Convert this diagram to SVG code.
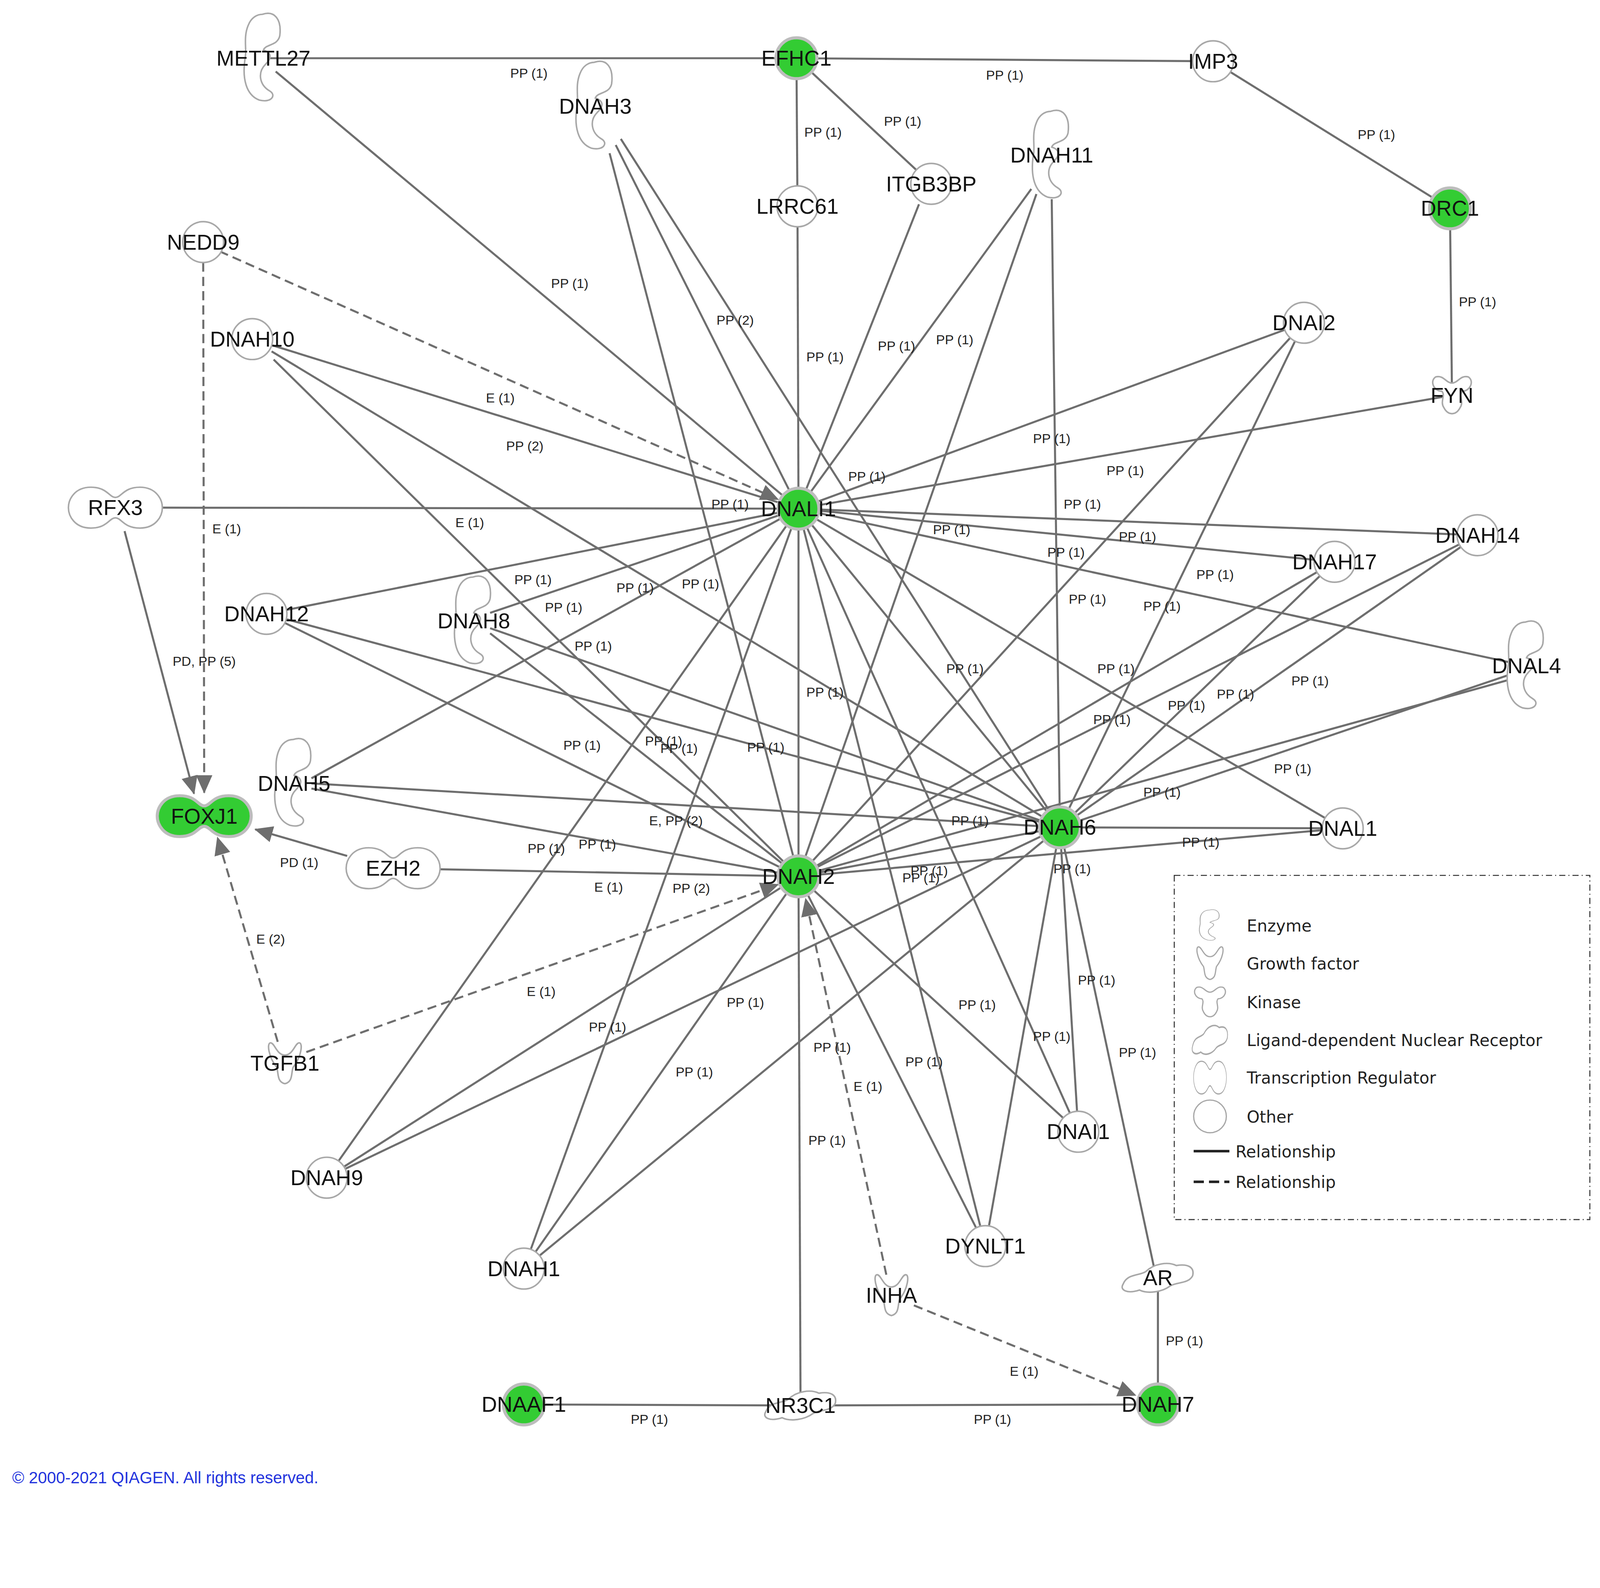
<svg xmlns="http://www.w3.org/2000/svg" xmlns:xlink="http://www.w3.org/1999/xlink" width="4345" height="4064" viewBox="0 0 4345 4064">
<style>
.e{stroke:#6e6e6e;stroke-width:2;fill:none}
.d{stroke-dasharray:9,5}
.a{marker-end:url(#arr)}
.lbl{font-family:"Liberation Sans",Arial,sans-serif;font-size:13px;fill:#222;text-anchor:middle}
.nl{font-family:"Liberation Sans",Arial,sans-serif;font-size:21px;fill:#111;text-anchor:middle;dominant-baseline:central}
.sh{fill:#fff;stroke:#a8a8a8;stroke-width:1.5}
.g{fill:#33cc33;stroke:#bdbdbd;stroke-width:3}
.lg{font-family:"DejaVu Sans",sans-serif;font-size:16px;fill:#222}
</style>
<defs>
<marker id="arr" markerUnits="userSpaceOnUse" markerWidth="18" markerHeight="16" refX="17" refY="8" orient="auto"><path d="M0,0 L18,8 L0,16 z" fill="#6e6e6e"/></marker>
<path id="circ" d="M-20,0 A20,20 0 1 1 20,0 A20,20 0 1 1 -20,0 z"/>
<path id="enz" d="M-1,-43 C11,-47 18,-38 16,-22 C14,-12 2,-14 0,-8 C6,-6 10,-2 2,6 C-6,14 -4,26 6,32 C13,36 8,44 -4,41 C-17,36 -21,20 -18,0 C-16,-8 -20,-20 -15,-32 C-12,-40 -6,-43 -1,-43 z"/>
<path id="tr" d="M-24,-20 C-8,-20 -6,-10 0,-10 C6,-10 8,-20 24,-20 C40,-20 46,-8 46,0 C46,8 40,20 24,20 C8,20 6,10 0,10 C-6,10 -8,20 -24,20 C-40,20 -46,8 -46,0 C-46,-8 -40,-20 -24,-20 z"/>
<path id="gf" d="M-14,-20 C-10,-20 -8,-8 0,-8 C8,-8 10,-20 14,-20 C18,-20 16,-6 8,4 C6,10 8,18 0,20 C-8,18 -6,10 -8,4 C-16,-6 -18,-20 -14,-20 z"/>
<path id="kin" d="M-16,-18 C-8,-20 -6,-12 0,-12 C6,-12 8,-20 16,-18 C22,-14 18,-4 10,-4 C6,0 12,6 8,12 C4,20 -4,20 -8,12 C-12,6 -6,0 -10,-4 C-18,-4 -22,-14 -16,-18 z"/>
<path id="nr" d="M-34,6 C-30,-4 -18,-2 -12,-6 C-4,-14 10,-16 18,-12 C30,-14 36,-10 34,-2 C30,6 18,4 12,8 C4,14 -10,16 -18,12 C-30,16 -38,12 -34,6 z"/>
</defs>
<rect width="4345" height="4064" fill="#fff"/>
<g transform="scale(2.614)">
<g id="connectors">
<line class="e" x1="258" y1="57" x2="780" y2="57"/>
<line class="e" x1="780" y1="57" x2="1188" y2="60"/>
<line class="e" x1="1188" y1="60" x2="1420" y2="204"/>
<line class="e" x1="1420" y1="204" x2="1422" y2="387"/>
<line class="e" x1="780" y1="57" x2="781" y2="202"/>
<line class="e" x1="780" y1="57" x2="912" y2="180"/>
<line class="e" x1="270" y1="70" x2="782" y2="498"/>
<line class="e" x1="597" y1="150" x2="782" y2="858"/>
<line class="e" x1="603" y1="142" x2="782" y2="498"/>
<line class="e" x1="608" y1="136" x2="1038" y2="810"/>
<line class="e" x1="781" y1="202" x2="782" y2="498"/>
<line class="e" x1="900" y1="200" x2="782" y2="498"/>
<line class="e" x1="1010" y1="185" x2="782" y2="498"/>
<line class="e" x1="1015" y1="190" x2="782" y2="858"/>
<line class="e" x1="1030" y1="195" x2="1038" y2="810"/>
<line class="e d a" x1="215" y1="246" x2="762" y2="489"/>
<line class="e d a" x1="199" y1="257" x2="200" y2="776"/>
<line class="e" x1="247" y1="332" x2="782" y2="498"/>
<line class="e" x1="268" y1="352" x2="782" y2="858"/>
<line class="e" x1="266" y1="344" x2="1038" y2="810"/>
<line class="e" x1="159" y1="497" x2="782" y2="498"/>
<line class="e a" x1="122" y1="520" x2="190" y2="777"/>
<line class="e" x1="782" y1="498" x2="1277" y2="316"/>
<line class="e" x1="782" y1="498" x2="1422" y2="387"/>
<line class="e" x1="782" y1="498" x2="1447" y2="524"/>
<line class="e" x1="782" y1="498" x2="1307" y2="550"/>
<line class="e" x1="782" y1="498" x2="1495" y2="652"/>
<line class="e" x1="782" y1="498" x2="1315" y2="811"/>
<line class="e" x1="782" y1="498" x2="1038" y2="810"/>
<line class="e" x1="782" y1="498" x2="261" y2="601"/>
<line class="e" x1="782" y1="498" x2="480" y2="600"/>
<line class="e" x1="782" y1="498" x2="305" y2="762"/>
<line class="e" x1="782" y1="498" x2="320" y2="1153"/>
<line class="e" x1="782" y1="498" x2="513" y2="1242"/>
<line class="e" x1="782" y1="498" x2="965" y2="1220"/>
<line class="e" x1="782" y1="498" x2="1056" y2="1108"/>
<line class="e" x1="782" y1="498" x2="782" y2="858"/>
<line class="e" x1="1277" y1="316" x2="782" y2="858"/>
<line class="e" x1="1277" y1="316" x2="1038" y2="810"/>
<line class="e" x1="1447" y1="524" x2="1038" y2="810"/>
<line class="e" x1="1447" y1="524" x2="782" y2="858"/>
<line class="e" x1="1307" y1="550" x2="1038" y2="810"/>
<line class="e" x1="1307" y1="550" x2="782" y2="858"/>
<line class="e" x1="1480" y1="660" x2="1038" y2="810"/>
<line class="e" x1="1480" y1="665" x2="782" y2="858"/>
<line class="e" x1="1038" y1="810" x2="1315" y2="811"/>
<line class="e" x1="782" y1="858" x2="1315" y2="811"/>
<line class="e" x1="261" y1="601" x2="782" y2="858"/>
<line class="e" x1="261" y1="601" x2="1038" y2="810"/>
<line class="e" x1="480" y1="620" x2="782" y2="858"/>
<line class="e" x1="480" y1="615" x2="1038" y2="810"/>
<line class="e" x1="305" y1="767" x2="1038" y2="810"/>
<line class="e" x1="305" y1="772" x2="782" y2="858"/>
<line class="e" x1="430" y1="851" x2="782" y2="858"/>
<line class="e a" x1="340" y1="838" x2="250" y2="812"/>
<line class="e d a" x1="272" y1="1020" x2="213" y2="820"/>
<line class="e d a" x1="300" y1="1030" x2="762" y2="866"/>
<line class="e" x1="320" y1="1153" x2="782" y2="858"/>
<line class="e" x1="320" y1="1153" x2="1038" y2="810"/>
<line class="e" x1="513" y1="1242" x2="782" y2="858"/>
<line class="e" x1="513" y1="1242" x2="1038" y2="810"/>
<line class="e" x1="782" y1="858" x2="1056" y2="1108"/>
<line class="e" x1="782" y1="858" x2="965" y2="1220"/>
<line class="e" x1="1038" y1="810" x2="1056" y2="1108"/>
<line class="e" x1="1038" y1="810" x2="965" y2="1220"/>
<line class="e" x1="1038" y1="810" x2="1130" y2="1240"/>
<line class="e" x1="782" y1="858" x2="784" y2="1376"/>
<line class="e d a" x1="868" y1="1248" x2="789" y2="880"/>
<line class="e d a" x1="895" y1="1278" x2="1112" y2="1366"/>
<line class="e" x1="1134" y1="1251" x2="1134" y2="1375"/>
<line class="e" x1="513" y1="1375" x2="784" y2="1376"/>
<line class="e" x1="784" y1="1376" x2="1134" y2="1375"/>
<line class="e" x1="1038" y1="810" x2="782" y2="858"/>
</g>
<g id="edge-labels">
<text class="lbl" x="518" y="76">PP (1)</text>
<text class="lbl" x="984" y="78">PP (1)</text>
<text class="lbl" x="1348" y="136">PP (1)</text>
<text class="lbl" x="1447" y="300">PP (1)</text>
<text class="lbl" x="806" y="134">PP (1)</text>
<text class="lbl" x="884" y="123">PP (1)</text>
<text class="lbl" x="558" y="282">PP (1)</text>
<text class="lbl" x="720" y="318">PP (2)</text>
<text class="lbl" x="808" y="354">PP (1)</text>
<text class="lbl" x="878" y="343">PP (1)</text>
<text class="lbl" x="935" y="337">PP (1)</text>
<text class="lbl" x="490" y="394">E (1)</text>
<text class="lbl" x="514" y="441">PP (2)</text>
<text class="lbl" x="460" y="516">E (1)</text>
<text class="lbl" x="222" y="522">E (1)</text>
<text class="lbl" x="715" y="498">PP (1)</text>
<text class="lbl" x="200" y="652">PD, PP (5)</text>
<text class="lbl" x="849" y="471">PP (1)</text>
<text class="lbl" x="1030" y="434">PP (1)</text>
<text class="lbl" x="1102" y="465">PP (1)</text>
<text class="lbl" x="1060" y="498">PP (1)</text>
<text class="lbl" x="1114" y="530">PP (1)</text>
<text class="lbl" x="932" y="523">PP (1)</text>
<text class="lbl" x="1044" y="545">PP (1)</text>
<text class="lbl" x="1065" y="591">PP (1)</text>
<text class="lbl" x="1138" y="598">PP (1)</text>
<text class="lbl" x="1190" y="567">PP (1)</text>
<text class="lbl" x="522" y="572">PP (1)</text>
<text class="lbl" x="552" y="599">PP (1)</text>
<text class="lbl" x="622" y="580">PP (1)</text>
<text class="lbl" x="686" y="576">PP (1)</text>
<text class="lbl" x="581" y="637">PP (1)</text>
<text class="lbl" x="945" y="659">PP (1)</text>
<text class="lbl" x="808" y="682">PP (1)</text>
<text class="lbl" x="1093" y="659">PP (1)</text>
<text class="lbl" x="1283" y="671">PP (1)</text>
<text class="lbl" x="1162" y="695">PP (1)</text>
<text class="lbl" x="1210" y="684">PP (1)</text>
<text class="lbl" x="1089" y="709">PP (1)</text>
<text class="lbl" x="570" y="734">PP (1)</text>
<text class="lbl" x="650" y="730">PP (1)</text>
<text class="lbl" x="665" y="737">PP (1)</text>
<text class="lbl" x="750" y="736">PP (1)</text>
<text class="lbl" x="1266" y="757">PP (1)</text>
<text class="lbl" x="1138" y="780">PP (1)</text>
<text class="lbl" x="662" y="808">E, PP (2)</text>
<text class="lbl" x="950" y="808">PP (1)</text>
<text class="lbl" x="1176" y="829">PP (1)</text>
<text class="lbl" x="535" y="835">PP (1)</text>
<text class="lbl" x="585" y="831">PP (1)</text>
<text class="lbl" x="293" y="849">PD (1)</text>
<text class="lbl" x="910" y="857">PP (1)</text>
<text class="lbl" x="902" y="864">PP (1)</text>
<text class="lbl" x="1050" y="855">PP (1)</text>
<text class="lbl" x="596" y="873">E (1)</text>
<text class="lbl" x="677" y="874">PP (2)</text>
<text class="lbl" x="265" y="924">E (2)</text>
<text class="lbl" x="1074" y="964">PP (1)</text>
<text class="lbl" x="530" y="975">E (1)</text>
<text class="lbl" x="730" y="986">PP (1)</text>
<text class="lbl" x="957" y="988">PP (1)</text>
<text class="lbl" x="595" y="1010">PP (1)</text>
<text class="lbl" x="1030" y="1019">PP (1)</text>
<text class="lbl" x="815" y="1030">PP (1)</text>
<text class="lbl" x="1114" y="1035">PP (1)</text>
<text class="lbl" x="905" y="1044">PP (1)</text>
<text class="lbl" x="680" y="1054">PP (1)</text>
<text class="lbl" x="850" y="1068">E (1)</text>
<text class="lbl" x="810" y="1121">PP (1)</text>
<text class="lbl" x="1160" y="1317">PP (1)</text>
<text class="lbl" x="1003" y="1347">E (1)</text>
<text class="lbl" x="636" y="1394">PP (1)</text>
<text class="lbl" x="972" y="1394">PP (1)</text>
</g>
<g id="n-METTL27" transform="translate(258,57)"><use xlink:href="#enz" class="sh"/><text class="nl">METTL27</text></g>
<g id="n-EFHC1" transform="translate(780,57)"><use xlink:href="#circ" class="g"/><text class="nl">EFHC1</text></g>
<g id="n-IMP3" transform="translate(1188,60)"><use xlink:href="#circ" class="sh"/><text class="nl">IMP3</text></g>
<g id="n-DNAH3" transform="translate(583,104)"><use xlink:href="#enz" class="sh"/><text class="nl">DNAH3</text></g>
<g id="n-DNAH11" transform="translate(1030,152)"><use xlink:href="#enz" class="sh"/><text class="nl">DNAH11</text></g>
<g id="n-LRRC61" transform="translate(781,202)"><use xlink:href="#circ" class="sh"/><text class="nl">LRRC61</text></g>
<g id="n-ITGB3BP" transform="translate(912,180)"><use xlink:href="#circ" class="sh"/><text class="nl">ITGB3BP</text></g>
<g id="n-DRC1" transform="translate(1420,204)"><use xlink:href="#circ" class="g"/><text class="nl">DRC1</text></g>
<g id="n-NEDD9" transform="translate(199,237)"><use xlink:href="#circ" class="sh"/><text class="nl">NEDD9</text></g>
<g id="n-DNAH10" transform="translate(247,332)"><use xlink:href="#circ" class="sh"/><text class="nl">DNAH10</text></g>
<g id="n-DNAI2" transform="translate(1277,316)"><use xlink:href="#circ" class="sh"/><text class="nl">DNAI2</text></g>
<g id="n-FYN" transform="translate(1422,387)"><use xlink:href="#kin" class="sh"/><text class="nl">FYN</text></g>
<g id="n-RFX3" transform="translate(113,497)"><use xlink:href="#tr" class="sh"/><text class="nl">RFX3</text></g>
<g id="n-DNALI1" transform="translate(782,498)"><use xlink:href="#circ" class="g"/><text class="nl">DNALI1</text></g>
<g id="n-DNAH14" transform="translate(1447,524)"><use xlink:href="#circ" class="sh"/><text class="nl">DNAH14</text></g>
<g id="n-DNAH17" transform="translate(1307,550)"><use xlink:href="#circ" class="sh"/><text class="nl">DNAH17</text></g>
<g id="n-DNAH12" transform="translate(261,601)"><use xlink:href="#circ" class="sh"/><text class="nl">DNAH12</text></g>
<g id="n-DNAH8" transform="translate(464,608)"><use xlink:href="#enz" class="sh"/><text class="nl">DNAH8</text></g>
<g id="n-DNAL4" transform="translate(1495,652)"><use xlink:href="#enz" class="sh"/><text class="nl">DNAL4</text></g>
<g id="n-DNAH5" transform="translate(288,767)"><use xlink:href="#enz" class="sh"/><text class="nl">DNAH5</text></g>
<g id="n-FOXJ1" transform="translate(200,799)"><use xlink:href="#tr" class="g"/><text class="nl">FOXJ1</text></g>
<g id="n-EZH2" transform="translate(385,850)"><use xlink:href="#tr" class="sh"/><text class="nl">EZH2</text></g>
<g id="n-DNAH6" transform="translate(1038,810)"><use xlink:href="#circ" class="g"/><text class="nl">DNAH6</text></g>
<g id="n-DNAL1" transform="translate(1315,811)"><use xlink:href="#circ" class="sh"/><text class="nl">DNAL1</text></g>
<g id="n-DNAH2" transform="translate(782,858)"><use xlink:href="#circ" class="g"/><text class="nl">DNAH2</text></g>
<g id="n-TGFB1" transform="translate(279,1041)"><use xlink:href="#gf" class="sh"/><text class="nl">TGFB1</text></g>
<g id="n-DNAI1" transform="translate(1056,1108)"><use xlink:href="#circ" class="sh"/><text class="nl">DNAI1</text></g>
<g id="n-DNAH9" transform="translate(320,1153)"><use xlink:href="#circ" class="sh"/><text class="nl">DNAH9</text></g>
<g id="n-DYNLT1" transform="translate(965,1220)"><use xlink:href="#circ" class="sh"/><text class="nl">DYNLT1</text></g>
<g id="n-DNAH1" transform="translate(513,1242)"><use xlink:href="#circ" class="sh"/><text class="nl">DNAH1</text></g>
<g id="n-INHA" transform="translate(873,1268)"><use xlink:href="#gf" class="sh"/><text class="nl">INHA</text></g>
<g id="n-AR" transform="translate(1134,1251)"><use xlink:href="#nr" class="sh"/><text class="nl">AR</text></g>
<g id="n-DNAAF1" transform="translate(513,1375)"><use xlink:href="#circ" class="g"/><text class="nl">DNAAF1</text></g>
<g id="n-NR3C1" transform="translate(784,1376)"><use xlink:href="#nr" class="sh"/><text class="nl">NR3C1</text></g>
<g id="n-DNAH7" transform="translate(1134,1375)"><use xlink:href="#circ" class="g"/><text class="nl">DNAH7</text></g>
<g id="legend">
<rect x="1150" y="857" width="407" height="337" fill="none" stroke="#333" stroke-width="1" stroke-dasharray="6,3,1,3"/>
<use xlink:href="#enz" class="sh" transform="translate(1185,906) scale(0.55,0.35)"/>
<use xlink:href="#gf" class="sh" transform="translate(1185,943) scale(0.8)"/>
<use xlink:href="#kin" class="sh" transform="translate(1185,981) scale(0.8)"/>
<use xlink:href="#nr" class="sh" transform="translate(1185,1018) scale(0.5,1)"/>
<use xlink:href="#tr" class="sh" transform="translate(1185,1055) scale(0.35,0.8)"/>
<use xlink:href="#circ" class="sh" transform="translate(1185,1093) scale(0.8)"/>
<text class="lg" x="1221" y="912">Enzyme</text>
<text class="lg" x="1221" y="949">Growth factor</text>
<text class="lg" x="1221" y="987">Kinase</text>
<text class="lg" x="1221" y="1024">Ligand-dependent Nuclear Receptor</text>
<text class="lg" x="1221" y="1061">Transcription Regulator</text>
<text class="lg" x="1221" y="1099">Other</text>
<line x1="1169" y1="1127" x2="1204" y2="1127" stroke="#222" stroke-width="2.5"/>
<line x1="1169" y1="1157" x2="1204" y2="1157" stroke="#222" stroke-width="2.5" stroke-dasharray="10,5"/>
<text class="lg" x="1210" y="1133">Relationship</text>
<text class="lg" x="1210" y="1163">Relationship</text>
</g>
<text x="12" y="1452" font-family="Liberation Sans, Arial, sans-serif" font-size="16" fill="#2233dd">© 2000-2021 QIAGEN. All rights reserved.</text>
</g>
</svg>
